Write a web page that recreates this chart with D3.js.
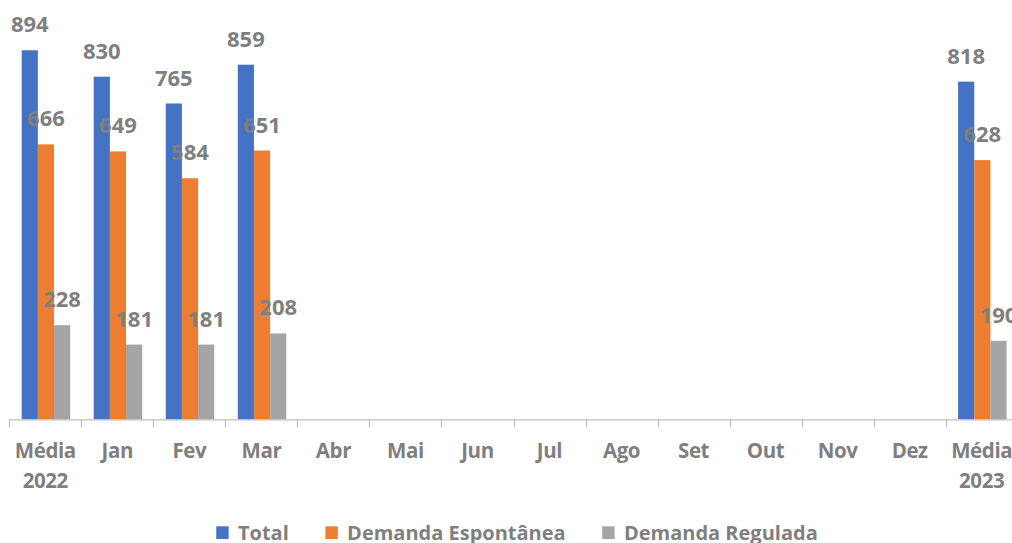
<!DOCTYPE html>
<html>
<head>
<meta charset="utf-8">
<script src="https://cdn.jsdelivr.net/npm/d3@7"></script>
<style>
  html, body { margin: 0; padding: 0; background: #ffffff; overflow: hidden; }
  svg { display: block; }
  text { font-family: "Open Sans", "Liberation Sans", sans-serif; }
</style>
</head>
<body>
<svg id="chart" width="1012" height="543"></svg>
<script>
// ---- Data ----
const categories = ["Média 2022", "Jan", "Fev", "Mar", "Abr", "Mai", "Jun", "Jul", "Ago", "Set", "Out", "Nov", "Dez", "Média 2023"];
const categoryLines = [["Média", "2022"], ["Jan"], ["Fev"], ["Mar"], ["Abr"], ["Mai"], ["Jun"], ["Jul"], ["Ago"], ["Set"], ["Out"], ["Nov"], ["Dez"], ["Média", "2023"]];
const seriesNames = ["Total", "Demanda Espontânea", "Demanda Regulada"];
const totalValues = [894, 830, 765, 859, null, null, null, null, null, null, null, null, null, 818];
const espontaneaValues = [666, 649, 584, 651, null, null, null, null, null, null, null, null, null, 628];
const reguladaValues = [228, 181, 181, 208, null, null, null, null, null, null, null, null, null, 190];
const seriesColors = ["#4472C4", "#ED7D31", "#A5A5A5"];

const seriesValues = [totalValues, espontaneaValues, reguladaValues];

const svg = d3.select("#chart");
const textColor = "#7F7F7F";
const axisColor = "#BFBFBF";

const baseY = 419.3;
const x0 = d3.scaleBand().domain(categories).range([9.3, 9.3 + 72.03 * categories.length]).padding(0);
const bw = x0.bandwidth();
const x1 = d3.scaleBand().domain(seriesNames).range([bw * 0.172, bw * 0.845]).padding(0);
const y = d3.scaleLinear().domain([0, 1000]).range([baseY, 6.5]);

// bars
const rows = [];
categories.forEach((c, i) => {
  seriesNames.forEach((s, j) => {
    const v = seriesValues[j][i];
    if (v != null) rows.push({ cat: c, series: s, value: v, color: seriesColors[j] });
  });
});

const g = svg.append("g");
g.selectAll("rect.bar").data(rows).join("rect")
  .attr("class", "bar")
  .attr("x", d => x0(d.cat) + x1(d.series))
  .attr("y", d => y(d.value))
  .attr("width", x1.bandwidth())
  .attr("height", d => baseY - y(d.value))
  .attr("fill", d => d.color);

// axis line
svg.append("line")
  .attr("x1", x0.range()[0]).attr("x2", x0.range()[1])
  .attr("y1", baseY + 0.5).attr("y2", baseY + 0.5)
  .attr("stroke", axisColor).attr("stroke-width", 1.3);

// boundary ticks
const boundaries = categories.map(c => x0(c)).concat([x0.range()[1]]);
svg.selectAll("line.tick").data(boundaries).join("line")
  .attr("class", "tick")
  .attr("x1", d => Math.round(d) + 0.5).attr("x2", d => Math.round(d) + 0.5)
  .attr("y1", baseY).attr("y2", baseY + 8)
  .attr("stroke", axisColor).attr("stroke-width", 1.3);

// category labels
const lab = svg.selectAll("text.cat").data(categories).join("text")
  .attr("class", "cat")
  .attr("text-anchor", "middle")
  .attr("fill", textColor)
  .attr("font-size", 20.5)
  .attr("letter-spacing", -0.4)
  .attr("font-weight", "bold");
lab.each(function(d, i) {
  const t = d3.select(this);
  categoryLines[i].forEach((line, k) => {
    t.append("tspan")
      .attr("x", x0(d) + bw / 2)
      .attr("y", 458.3 + k * 29.2)
      .text(line);
  });
});

// data labels
g.selectAll("text.val").data(rows).join("text")
  .attr("class", "val")
  .attr("x", d => x0(d.cat) + x1(d.series) + x1.bandwidth() / 2)
  .attr("y", d => y(d.value) - 18)
  .attr("text-anchor", "middle")
  .attr("fill", textColor)
  .attr("font-size", 22)
  .attr("font-weight", "bold")
  .text(d => d.value);

// legend
const legend = svg.append("g");
let cx = 0;
seriesNames.forEach((s, j) => {
  const item = legend.append("g").attr("transform", `translate(${cx},0)`);
  item.append("rect").attr("x", 0).attr("y", 526.3).attr("width", 12.4).attr("height", 12.7).attr("fill", seriesColors[j]);
  const t = item.append("text").attr("x", 21.7).attr("y", 540)
    .attr("fill", textColor).attr("font-size", 20).attr("font-weight", "bold").text(s);
  const w = t.node().getComputedTextLength();
  cx += 21.7 + w + 36.6;
});
const legendWidth = cx - 36.6;
legend.attr("transform", `translate(${517 - legendWidth / 2},0)`);
</script>
</body>
</html>
